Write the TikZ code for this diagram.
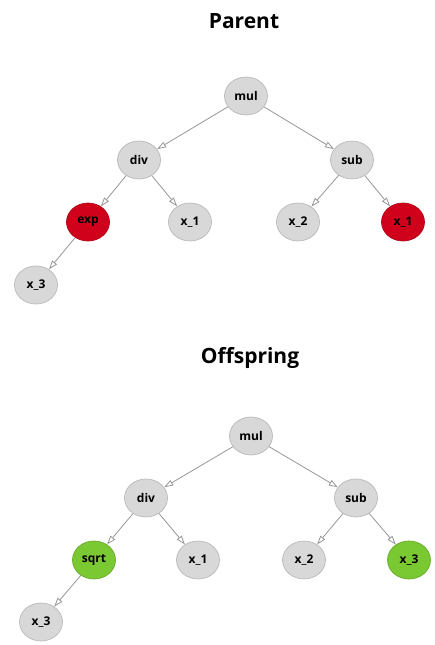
\documentclass[tikz,border=0pt]{standalone}
\usepackage{fontspec}
\setmainfont{Open Sans}
\usetikzlibrary{arrows.meta,shapes.geometric}
\definecolor{nodegray}{RGB}{216,216,216}
\definecolor{rimgray}{RGB}{185,185,185}
\definecolor{edgegray}{RGB}{150,150,150}
\definecolor{mutred}{RGB}{208,2,27}
\definecolor{mutgreen}{RGB}{122,200,50}
\tikzset{
  tnode/.style={ellipse, draw=rimgray, line width=0.7pt, fill=nodegray,
    minimum width=43pt, minimum height=38pt, inner sep=0pt,
    font=\fontsize{12}{14}\selectfont\bfseries},
  rednode/.style={tnode, fill=mutred, draw=mutred!85!black},
  greennode/.style={tnode, fill=mutgreen, draw=mutgreen!85!black},
  edge/.style={draw=edgegray, line width=0.8pt,
    -{Triangle[open, length=9pt, width=6pt]}},
  title/.style={font=\fontsize{21}{25}\selectfont\bfseries}
}
\begin{document}
\begin{tikzpicture}[x=1pt, y=-1pt]
\useasboundingbox (0,0) rectangle (434,645);

% Parent tree
\node[title] (ptitle) at (244,21) {Parent};
\node[tnode] (pmul) at (246,96) {mul};
\node[tnode] (pdiv) at (139,160) {div};
\node[tnode] (psub) at (352,160) {sub};
\node[rednode] (pexp) at (88,222) {exp};
\node[tnode] (px1a) at (190,222) {x\_1};
\node[tnode] (px2) at (298,222) {x\_2};
\node[rednode] (px1b) at (403,222) {x\_1};
\node[tnode] (px3) at (36,285) {x\_3};

\draw[edge] (pmul) -- (pdiv);
\draw[edge] (pmul) -- (psub);
\draw[edge] (pdiv) -- (pexp);
\draw[edge] (pdiv) -- (px1a);
\draw[edge] (psub) -- (px2);
\draw[edge] (psub) -- (px1b);
\draw[edge] (pexp) -- (px3);

% Offspring tree
\node[title] (otitle) at (250,358) {Offspring};
\node[tnode] (omul) at (251,436) {mul};
\node[tnode] (odiv) at (146,498) {div};
\node[tnode] (osub) at (356,498) {sub};
\node[greennode] (osqrt) at (94,560) {sqrt};
\node[tnode] (ox1) at (198,560) {x\_1};
\node[tnode] (ox2) at (304,560) {x\_2};
\node[greennode] (ox3a) at (409,560) {x\_3};
\node[tnode] (ox3b) at (41,622) {x\_3};

\draw[edge] (omul) -- (odiv);
\draw[edge] (omul) -- (osub);
\draw[edge] (odiv) -- (osqrt);
\draw[edge] (odiv) -- (ox1);
\draw[edge] (osub) -- (ox2);
\draw[edge] (osub) -- (ox3a);
\draw[edge] (osqrt) -- (ox3b);
\end{tikzpicture}
\end{document}
